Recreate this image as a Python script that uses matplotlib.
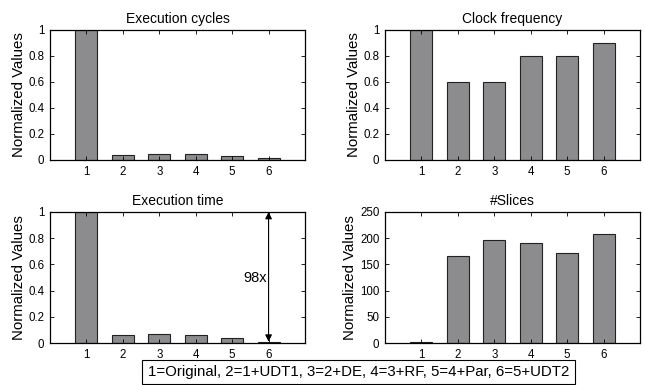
import matplotlib
matplotlib.use("Agg")
import matplotlib.pyplot as plt
from matplotlib.patches import Rectangle

plt.rcParams['font.family'] = ['Liberation Sans', 'DejaVu Sans']

categories = [1, 2, 3, 4, 5, 6]
exec_cycles = [1.0, 0.04, 0.045, 0.05, 0.03, 0.012]
clock_freq = [1.0, 0.6, 0.6, 0.8, 0.8, 0.9]
exec_time = [1.0, 0.06, 0.07, 0.06, 0.035, 0.0102]
slices = [1.0, 166, 197, 191, 172, 208]
titles = ["Execution cycles", "Clock frequency", "Execution time", "#Slices"]
legend_text = "1=Original, 2=1+UDT1, 3=2+DE, 4=3+RF, 5=4+Par, 6=5+UDT2"

W, H = 645, 385
fig = plt.figure(figsize=(W / 100, H / 100), dpi=100)

def rect(x0, y0, x1, y1):
    return [x0 / W, 1 - y1 / H, (x1 - x0) / W, (y1 - y0) / H]

boxes = [rect(50, 30, 305, 160), rect(385, 30, 640, 160),
         rect(50, 212, 305, 343), rect(385, 212, 640, 343)]
datasets = [exec_cycles, clock_freq, exec_time, slices]
ylims = [(0, 1), (0, 1), (0, 1), (0, 250)]
yticks = [[0, 0.2, 0.4, 0.6, 0.8, 1], [0, 0.2, 0.4, 0.6, 0.8, 1],
          [0, 0.2, 0.4, 0.6, 0.8, 1], [0, 50, 100, 150, 200, 250]]
yticklabels = [["0", "0.2", "0.4", "0.6", "0.8", "1"]] * 3 + [["0", "50", "100", "150", "200", "250"]]

axes = []
for box, data, title, yl, yt, ytl in zip(boxes, datasets, titles, ylims, yticks, yticklabels):
    ax = fig.add_axes(box)
    ax.bar(categories, data, width=0.6, color='#8c8c8e', edgecolor='#222222', linewidth=0.8)
    ax.set_xlim(0, 7)
    ax.set_ylim(*yl)
    ax.set_xticks(categories)
    ax.set_yticks(yt)
    ax.set_yticklabels(ytl)
    ax.tick_params(direction='in', top=True, right=True, labelsize=8.3, length=3, width=0.6, pad=4)
    ax.set_title(title, fontsize=10, pad=5)
    ax.set_ylabel("Normalized Values", fontsize=10.8, labelpad=2)
    for s in ax.spines.values():
        s.set_linewidth(0.9)
    axes.append(ax)

# 98x arrow on Execution time
ax = axes[2]
ax.annotate("", xy=(categories[5], exec_time[5]), xytext=(categories[5], 1.0),
            arrowprops=dict(arrowstyle='<|-|>', color='black', lw=0.8,
                            mutation_scale=10, shrinkA=0, shrinkB=0))
ax.text(categories[5] - 0.05, 0.5, "98x", ha='right', va='center', fontsize=10.5)

# legend box
bx0, by0, bx1, by1 = 142, 360, 575, 384
fig.patches.append(Rectangle((bx0 / W, 1 - by1 / H), (bx1 - bx0) / W, (by1 - by0) / H,
                             transform=fig.transFigure, fill=False, ec='black', lw=0.8))
fig.text((bx0 + bx1) / 2 / W, 1 - (by0 + by1) / 2 / H, legend_text, ha='center', va='center',
         fontsize=10.8)

fig.savefig("out.png", dpi=100)
